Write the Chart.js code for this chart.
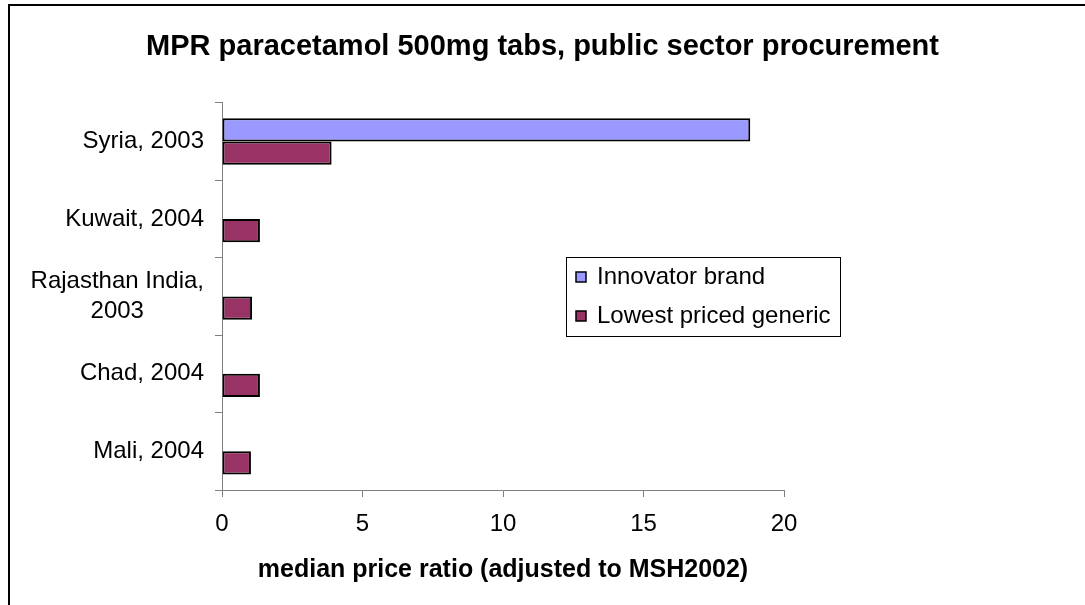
<!DOCTYPE html>
<html>
<head>
<meta charset="utf-8">
<title>MPR paracetamol 500mg tabs</title>
<script src="https://cdn.jsdelivr.net/npm/chart.js@4.4.0/dist/chart.umd.min.js"></script>
<style>
  html, body { margin: 0; padding: 0; background: #fff; }
  #wrap { position: relative; width: 1085px; height: 605px; overflow: hidden; }
  #wrap canvas { position: absolute; left: 0; top: 0; }
  #frame {
    position: absolute; left: 8px; top: 4px; right: -10px; bottom: -10px;
    border-left: 2px solid #000; border-top: 2px solid #000; pointer-events: none;
  }
</style>
</head>
<body>
<div id="wrap">
  <canvas id="chart" width="1085" height="605"></canvas>
  <div id="frame"></div>
</div>
<script>
// data
const categories = [['Syria, 2003'], ['Kuwait, 2004'], ['Rajasthan India,', '2003'], ['Chad, 2004'], ['Mali, 2004']];
const innovatorBrand = [18.8, null, null, null, null];
const lowestGeneric = [3.9, 1.35, 1.07, 1.35, 1.03];
const xTicks = [0, 5, 10, 15, 20];
const seriesNames = ['Innovator brand', 'Lowest priced generic'];
const seriesColors = ['#9999FF', '#993366'];

const FONT = '"Liberation Sans", Arial, sans-serif';

// y labels: right aligned block, lines centred on each other (like Excel)
const yLabels = {
    id: 'yLabels',
    afterDraw(chart) {
        const y = chart.scales.y;
        const ctx = chart.ctx;
        ctx.save();
        ctx.font = '24px ' + FONT;
        ctx.fillStyle = '#000';
        ctx.textAlign = 'center';
        ctx.textBaseline = 'middle';
        categories.forEach((lines, i) => {
            const maxW = Math.max(...lines.map(l => ctx.measureText(l).width));
            const cx = y.right - 18 - maxW / 2;
            const cy = y.getPixelForValue(i);
            lines.forEach((l, j) => {
                ctx.fillText(l, cx, cy + (j - (lines.length - 1) / 2) * 30);
            });
        });
        ctx.restore();
    }
};

// boxed legend sitting inside the plot
const boxLegend = {
    id: 'boxLegend',
    afterDraw(chart) {
        const ctx = chart.ctx;
        const left = 566, top = 257, w = 274, h = 79;
        ctx.save();
        ctx.fillStyle = '#fff';
        ctx.fillRect(left, top, w, h);
        ctx.strokeStyle = '#000';
        ctx.lineWidth = 1;
        ctx.strokeRect(left + 0.5, top + 0.5, w, h);
        ctx.font = '24px ' + FONT;
        ctx.textBaseline = 'middle';
        ctx.textAlign = 'left';
        chart.data.datasets.forEach((ds, i) => {
            const cy = top + 20 + i * 39;
            ctx.fillStyle = ds.backgroundColor;
            ctx.fillRect(left + 10, cy - 5, 10, 10);
            ctx.strokeStyle = '#000';
            ctx.lineWidth = 1.5;
            ctx.strokeRect(left + 10, cy - 5, 10, 10);
            ctx.fillStyle = '#000';
            ctx.fillText(ds.label, left + 31, cy);
        });
        ctx.restore();
    }
};

const ctx = document.getElementById('chart').getContext('2d');
new Chart(ctx, {
    type: 'bar',
    data: {
        labels: categories,
        datasets: [
            {
                label: seriesNames[0],
                data: innovatorBrand,
                backgroundColor: seriesColors[0],
                borderColor: '#000',
                borderWidth: 2,
                borderSkipped: false,
                categoryPercentage: 0.6,
                barPercentage: 1
            },
            {
                label: seriesNames[1],
                data: lowestGeneric,
                backgroundColor: seriesColors[1],
                borderColor: '#000',
                borderWidth: 2,
                borderSkipped: false,
                categoryPercentage: 0.6,
                barPercentage: 1
            }
        ]
    },
    options: {
        indexAxis: 'y',
        responsive: false,
        animation: false,
        layout: { padding: 0 },
        scales: {
            x: {
                min: 0,
                max: 20,
                afterBuildTicks: s => { s.ticks = xTicks.map(v => ({ value: v })); },
                ticks: { color: '#000', font: { family: FONT, size: 24 }, padding: 13 },
                grid: { drawOnChartArea: false, tickLength: 7, color: '#808080' },
                border: { color: '#808080', width: 1 },
                title: {
                    display: true,
                    text: 'median price ratio (adjusted to MSH2002)',
                    color: '#000',
                    font: { family: FONT, size: 25, weight: 'bold' },
                    padding: { top: 0, bottom: 20 }
                },
                afterFit: s => { s.height = 115; }
            },
            y: {
                ticks: { display: false },
                grid: { offset: true, drawOnChartArea: false, tickLength: 7, color: '#808080' },
                border: { color: '#808080', width: 1 },
                afterFit: s => { s.width = 222; }
            },
            // empty spacer so the plot stops where the reference's does
            spacer: {
                type: 'linear',
                position: 'right',
                grid: { display: false },
                border: { display: false },
                ticks: { display: false },
                afterFit: s => { s.width = 1085 - 784; }
            }
        },
        plugins: {
            legend: { display: false },
            tooltip: { enabled: false },
            title: {
                display: true,
                text: 'MPR paracetamol 500mg tabs, public sector procurement',
                color: '#000',
                font: { family: FONT, size: 29, weight: 'bold' },
                padding: { top: 30, bottom: 38 }
            }
        }
    },
    plugins: [yLabels, boxLegend]
});
</script>
</body>
</html>
